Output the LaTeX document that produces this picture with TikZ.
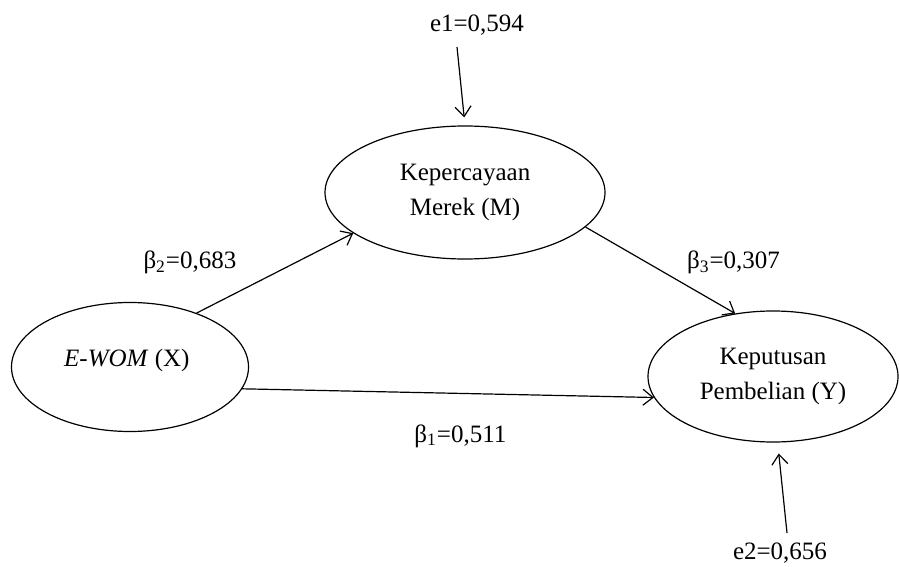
\documentclass[tikz,border=0pt]{standalone}
\usepackage{fontspec}
\setmainfont{Liberation Serif}
\usetikzlibrary{shapes.geometric, arrows.meta}

\begin{document}
\begin{tikzpicture}[x = 0.5pt, y = -0.5pt,
	font = \fontsize{12.5}{17.5}\selectfont,
	construct/.style = { draw, ellipse, line width = 0.6pt, inner sep = 0pt, align = center },
	effect/.style = { draw, line width = 0.6pt, -{Straight Barb[length = 5pt, width = 8pt]} }]
	\useasboundingbox (0,0) rectangle (899,567);

	% constructs
	\node [construct, minimum width = 237pt / 2, minimum height = 129pt / 2] (X) at (130,367) { \raisebox{9pt}{\textit{E-WOM} (X)} };
	\node [construct, minimum width = 280pt / 2, minimum height = 133pt / 2] (M) at (465,192.5) { Kepercayaan \\ Merek (M) };
	\node [construct, minimum width = 250pt / 2, minimum height = 131pt / 2] (Y) at (773,376.5) { Keputusan \\ Pembelian (Y) };

	% residuals
	\node (e1) at (477,25) { e1=0,594 };
	\node (e2) at (780,553) { e2=0,656 };
	\coordinate (e1tail) at (457,47);
	\coordinate (e2tail) at (787,533);

	% paths
	\draw [effect] (X.39) -- (M.200)
		node [pos = 0.3, anchor = south east, yshift = 4pt] (b2) { β\textsubscript{2}=0,683 };
	\draw [effect] (M.-16) -- (Y.121)
		node [pos = 0.63, anchor = south west] (b3) { β\textsubscript{3}=0,307 };
	\draw [effect] (X.-11) -- (Y.190)
		node [pos = 0.53, below = 12pt] (b1) { β\textsubscript{1}=0,511 };
	\draw [effect, shorten > = 4pt] (e1tail) -- (M.north);
	\draw [effect, shorten > = 5.5pt] (e2tail) -- (Y.-86);
\end{tikzpicture}
\end{document}
